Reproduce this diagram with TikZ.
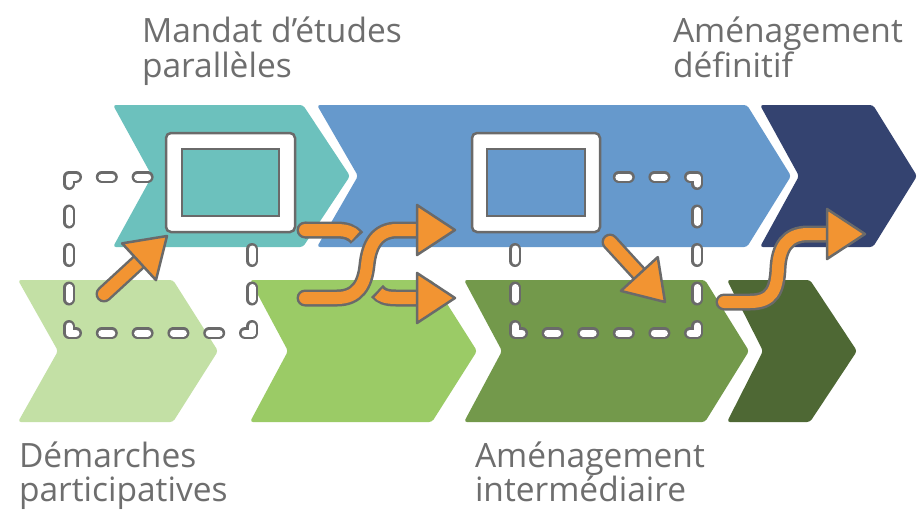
\documentclass[tikz,border=0pt]{standalone}
\usepackage{fontspec}
\setmainfont{Open Sans}
\usetikzlibrary{calc}
\definecolor{tealc}{HTML}{6CC1BD}
\definecolor{bluec}{HTML}{6699CC}
\definecolor{navyc}{HTML}{344370}
\definecolor{lgreen}{HTML}{C3E0A5}
\definecolor{mgreen}{HTML}{9BCB66}
\definecolor{ogreen}{HTML}{73994B}
\definecolor{dgreen}{HTML}{4E6834}
\definecolor{orng}{HTML}{F29432}
\definecolor{gc}{HTML}{6A6A6A}
\definecolor{txt}{HTML}{6E6E6E}
\tikzset{
  dgray/.style={draw=gc, line width=12pt, line cap=round, line join=round},
  dwhite/.style={draw=white, line width=7pt, line cap=round, line join=round},
  frameout/.style={fill=white, draw=gc, line width=2.5pt, rounded corners=5pt},
  framein/.style={draw=gc, line width=2.5pt},
  shout/.style={draw=gc, line width=17pt, line cap=round},
  shin/.style={draw=orng, line width=12pt, line cap=round},
  cutout/.style={draw=gc, line width=17pt},
  cutin/.style={draw=orng, line width=12pt},
  headsty/.style={fill=orng, draw=gc, line width=2.5pt, line join=round},
  lbl/.style={text=txt, inner sep=0pt, outer sep=0pt, anchor=base west, font=\fontsize{33.5pt}{35pt}\selectfont},
}
\newcommand\chevr[7]{\fill[#7, rounded corners=3pt] (#1,#5) -- (#3,#5) -- (#4,{(#5+#6)/2}) -- (#3,#6) -- (#1,#6) -- (#2,{(#5+#6)/2}) -- cycle;}
\newcommand\dashfr[5]{%
  \pgfmathsetmacro\gh{(#3-#1-26-88)/5}%
  \pgfmathsetmacro\gv{(#4-#2-26-72)/4}%
  \draw[#5] ({#1+7},#2) -- (#1,#2) -- (#1,{#2+7});
  \draw[#5] ({#3-7},#2) -- (#3,#2) -- (#3,{#2+7});
  \draw[#5] (#1,{#4-7}) -- (#1,#4) -- ({#1+7},#4);
  \draw[#5] ({#3-7},#4) -- (#3,#4) -- (#3,{#4-7});
  \foreach \i in {1,...,4}{
    \draw[#5] ({#1+13+\i*\gh+(\i-1)*22+6},#2) -- ({#1+13+\i*\gh+\i*22-6},#2);
    \draw[#5] ({#1+13+\i*\gh+(\i-1)*22+6},#4) -- ({#1+13+\i*\gh+\i*22-6},#4);
  }
  \foreach \i in {1,2,3}{
    \draw[#5] (#1,{#2+13+\i*\gv+(\i-1)*24+6}) -- (#1,{#2+13+\i*\gv+\i*24-6});
    \draw[#5] (#3,{#2+13+\i*\gv+(\i-1)*24+6}) -- (#3,{#2+13+\i*\gv+\i*24-6});
  }
}
\newcommand\ahd[2]{%
  \path ($(#1)!38pt!(#2)$) coordinate (hb);
  \draw[headsty] (#1) -- ($(hb)!25pt!90:(#1)$) -- ($(hb)!25pt!-90:(#1)$) -- cycle;}
\begin{document}
\begin{tikzpicture}[x=1pt,y=-1pt]
\useasboundingbox (0,0) rectangle (920,517);
\fill[white] (0,0) rectangle (920,517);
% chevrons, top row
\chevr{113}{152}{303}{350}{105}{247}{tealc}
\chevr{317}{358}{747}{791}{105}{247}{bluec}
\chevr{760}{799}{873}{917}{105}{247}{navyc}
% chevrons, bottom row
\chevr{18}{58}{173}{218}{280}{422}{lgreen}
\chevr{250}{288}{432}{477}{280}{422}{mgreen}
\chevr{464}{502}{705}{749}{280}{422}{ogreen}
\chevr{727}{763}{810}{857}{280}{422}{dgreen}
% dashed frames
\dashfr{69}{177}{252}{333}{dgray}
\dashfr{515}{177}{697}{333}{dgray}
\dashfr{69}{177}{252}{333}{dwhite}
\dashfr{515}{177}{697}{333}{dwhite}
% window icons
\draw[frameout] (166,133) rectangle (295,232);
\draw[framein, fill=tealc] (182,149) rectangle (279,216);
\draw[frameout] (472,133) rectangle (600,232);
\draw[framein, fill=bluec] (487,149) rectangle (585,216);
% arrow 1
\coordinate (s1) at (104,294);
\coordinate (e1) at (167,236);
\path ($(e1)!38pt!(s1)$) coordinate (b1);
\draw[shout] (s1) -- ($(b1)!4pt!(e1)$);
\draw[shin] (s1) -- ($(b1)!4pt!(e1)$);
\ahd{e1}{s1}
% arrow A (crossed under)
\fill[gc] (305,230) circle[radius=8.5pt];
\draw[cutout] (305,230) -- (336,230) .. controls (346,230) and (352,232) .. (357,238);
\fill[orng] (305,230) circle[radius=6pt];
\draw[cutin, shorten >=2.5pt] (305,230) -- (336,230) .. controls (346,230) and (352,232) .. (357,238);
\draw[cutout] (377,291) .. controls (381,296) and (386,298) .. (396,298) -- (421,298);
\draw[cutin, shorten <=2.5pt] (377,291) .. controls (381,296) and (386,298) .. (396,298) -- (421,298);
\coordinate (ta) at (455,298);
\coordinate (ba) at (417,298);
\ahd{ta}{ba}
% arrow B (S curve up)
\draw[shout] (305,298) -- (337,298) .. controls (357,298) and (365,285) .. (367,265) .. controls (369,245) and (377,230) .. (397,230) -- (421,230);
\draw[shin] (305,298) -- (337,298) .. controls (357,298) and (365,285) .. (367,265) .. controls (369,245) and (377,230) .. (397,230) -- (421,230);
\coordinate (tb) at (455,230);
\coordinate (bb) at (417,230);
\ahd{tb}{bb}
% arrow 3
\coordinate (s3) at (610,242);
\coordinate (e3) at (665,302);
\path ($(e3)!38pt!(s3)$) coordinate (b3);
\draw[shout] (s3) -- ($(b3)!4pt!(e3)$);
\draw[shin] (s3) -- ($(b3)!4pt!(e3)$);
\ahd{e3}{s3}
% arrow 4
\draw[shout] (724,302) -- (750,302) .. controls (772,302) and (777,290) .. (778,268) .. controls (779,248) and (787,234) .. (808,234) -- (832,234);
\draw[shin] (724,302) -- (750,302) .. controls (772,302) and (777,290) .. (778,268) .. controls (779,248) and (787,234) .. (808,234) -- (832,234);
\coordinate (t4) at (865,234);
\coordinate (b4) at (827,234);
\ahd{t4}{b4}
% labels
\node[lbl] (t1a) at (142,42) {Mandat d’études};
\node[lbl] (t1b) at (142,77) {parallèles};
\node[lbl] (t2a) at (19,467) {Démarches};
\node[lbl] (t2b) at (19,501) {participatives};
\node[lbl] (t3a) at (475,467) {Aménagement};
\node[lbl] (t3b) at (475,501) {intermédiaire};
\node[lbl] (t4a) at (673,42) {Aménagement};
\node[lbl] (t4b) at (673,77) {définitif};
\end{tikzpicture}
\end{document}
